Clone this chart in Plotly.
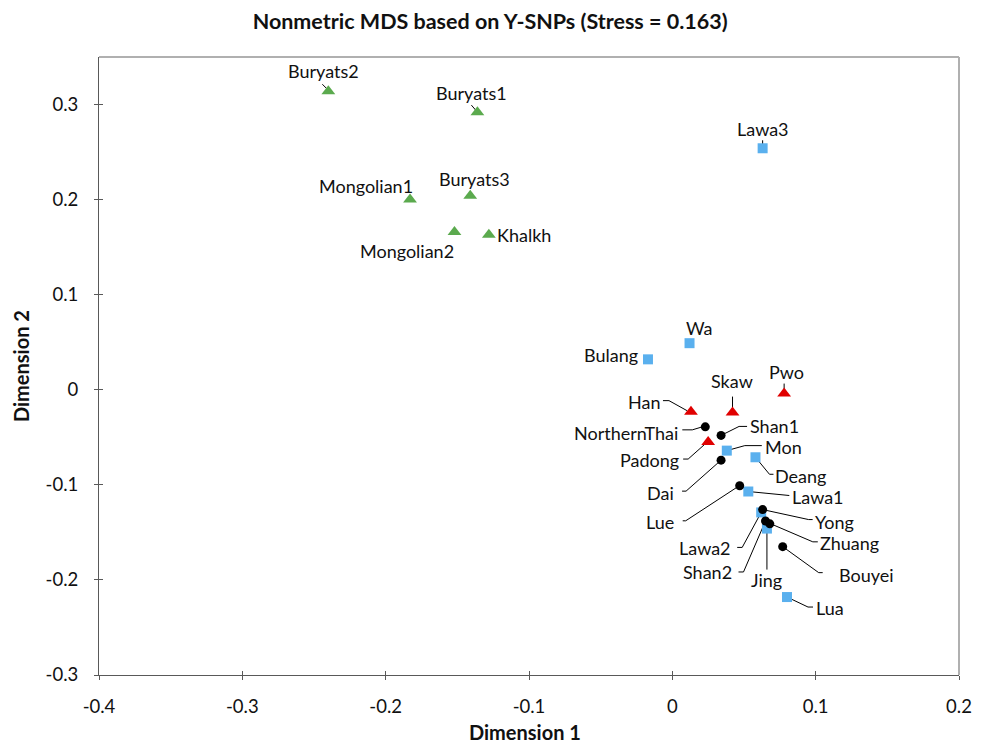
import plotly.graph_objects as go

# ---- data ----
green_names = ["Buryats2", "Buryats1", "Mongolian1", "Buryats3", "Mongolian2", "Khalkh"]
green_x = [-0.240, -0.136, -0.183, -0.141, -0.152, -0.128]
green_y = [0.314, 0.292, 0.200, 0.204, 0.166, 0.163]

red_names = ["Pwo", "Han", "Skaw", "Padong"]
red_x = [0.078, 0.013, 0.042, 0.025]
red_y = [-0.004, -0.023, -0.024, -0.055]

blue_names = ["Lawa3", "Wa", "Bulang", "Mon", "Deang", "Lawa1", "Lawa2", "Jing", "Lua"]
blue_x = [0.063, 0.012, -0.017, 0.038, 0.058, 0.053, 0.062, 0.066, 0.080]
blue_y = [0.254, 0.049, 0.032, -0.064, -0.071, -0.107, -0.129, -0.146, -0.218]

black_names = ["NorthernThai", "Shan1", "Dai", "Lue", "Yong", "Shan2", "Zhuang", "Bouyei"]
black_x = [0.023, 0.034, 0.034, 0.047, 0.063, 0.065, 0.068, 0.077]
black_y = [-0.039, -0.048, -0.074, -0.101, -0.126, -0.138, -0.141, -0.165]

x_ticks = [-0.4, -0.3, -0.2, -0.1, 0, 0.1, 0.2]
x_tick_text = ["-0.4", "-0.3", "-0.2", "-0.1", "0", "0.1", "0.2"]
y_ticks = [-0.3, -0.2, -0.1, 0, 0.1, 0.2, 0.3]
y_tick_text = ["-0.3", "-0.2", "-0.1", "0", "0.1", "0.2", "0.3"]

# ---- label placement (screen-pixel offsets from the marker, y pointing down) ----
label_offset = {
    "Buryats2": (-5, -20), "Buryats1": (-6, -19), "Mongolian1": (-44, -14), "Buryats3": (4, -17),
    "Mongolian2": (-47, 19), "Khalkh": (35, 0), "Lawa3": (0, -19), "Wa": (10, -15),
    "Bulang": (-37, -4), "Pwo": (2, -22), "Han": (-47, -10), "Skaw": (-1, -32),
    "NorthernThai": (-79, 6), "Shan1": (53, -9), "Padong": (-59, 18), "Mon": (57, -4),
    "Deang": (45, 19), "Dai": (-61, 33), "Lue": (-80, 36), "Lawa1": (70, 5),
    "Yong": (72, 12), "Lawa2": (-56, 36), "Zhuang": (80, 19), "Shan2": (-58, 51),
    "Jing": (0, 51), "Bouyei": (84, 28), "Lua": (43, 11),
}
# leader line polylines (screen-pixel offsets from the marker, y pointing down)
leader = {
    "Buryats2": [(-6, -7), (0, -1)], "Buryats1": [(-6, -7), (0, 0)],
    "Lawa3": [(0, -8), (0, -3)], "Pwo": [(0, -10), (0, -4)],
    "Han": [(-28, -11), (-22, -11), (-4, -1)], "Skaw": [(0, -16), (0, -4)],
    "NorthernThai": [(-23, 3), (-13, 3), (-3, 0)], "Shan1": [(0, 0), (18, -9), (26, -9)],
    "Padong": [(-25, 17), (-20, 17), (-2, 1)], "Mon": [(0, 0), (18, -5), (35, -5)],
    "Deang": [(0, 0), (14, 17), (18, 17)], "Dai": [(-39, 31), (-35, 31), (0, 0)],
    "Lue": [(-57, 35), (-54, 35), (-2, 1)], "Lawa1": [(0, 0), (41, 4)],
    "Yong": [(0, 0), (46, 10), (50, 10)], "Lawa2": [(-24, 35), (-19, 35), (0, 0)],
    "Zhuang": [(1, 0), (43, 18), (48, 18)], "Shan2": [(-27, 51), (-22, 51), (0, 0)],
    "Jing": [(0, 0), (0, 41)], "Bouyei": [(0, 0), (36, 26), (40, 26)],
    "Lua": [(0, 0), (21, 10), (26, 10)],
}

FONT = "Lato, 'Open Sans', sans-serif"
TXT = "#111111"

fig = go.Figure()
groups = [
    (green_names, green_x, green_y, dict(symbol="triangle-up", color="#5BAA4E", size=12)),
    (red_names, red_x, red_y, dict(symbol="triangle-up", color="#E00000", size=12)),
    (blue_names, blue_x, blue_y, dict(symbol="square", color="#5AB0EE", size=10)),
    (black_names, black_x, black_y, dict(symbol="circle", color="#000000", size=9)),
]
annotations = []
shapes = []
for names, xs, ys, mk in groups:
    for n, x, y in zip(names, xs, ys):
        if n in leader:
            pts = leader[n]
            path = "M " + " L ".join(f"{px},{-py}" for px, py in pts)
            shapes.append(dict(type="path", xref="x", yref="y", xsizemode="pixel", ysizemode="pixel",
                               xanchor=x, yanchor=y, path=path, line=dict(color="#000000", width=1),
                               layer="below"))
        dx, dy = label_offset[n]
        annotations.append(dict(x=x, y=y, xref="x", yref="y", text=n, showarrow=False,
                                xshift=dx, yshift=-dy, xanchor="center", yanchor="middle",
                                font=dict(family=FONT, size=18, color=TXT)))
    fig.add_trace(go.Scatter(x=xs, y=ys, mode="markers", marker=dict(line=dict(width=0), **mk),
                             showlegend=False, hoverinfo="text", text=names))

# axis titles
annotations.append(dict(xref="paper", yref="paper", x=0.5, y=0, xshift=-4, yshift=-57, showarrow=False,
                        text="<b>Dimension 1</b>", xanchor="center", yanchor="middle",
                        font=dict(family=FONT, size=20, color=TXT)))
annotations.append(dict(xref="paper", yref="paper", x=0, y=0.5, xshift=-78, showarrow=False, textangle=-90,
                        text="<b>Dimension 2</b>", xanchor="center", yanchor="middle",
                        font=dict(family=FONT, size=20, color=TXT)))

# invisible trace on overlay axes to get cross-style tick marks
fig.add_trace(go.Scatter(x=[None], y=[None], xaxis="x2", yaxis="y2", showlegend=False, hoverinfo="skip"))

axis_common = dict(showgrid=False, zeroline=False, showline=True, linecolor="#595959", linewidth=1,
                   tickcolor="#595959", automargin=False)

shapes += [
    dict(type="line", xref="paper", yref="paper", x0=0, x1=1, y0=1, y1=1, line=dict(color="#B0B0B0", width=2)),
    dict(type="line", xref="paper", yref="paper", x0=1, x1=1, y0=0, y1=1, line=dict(color="#B0B0B0", width=2)),
]

fig.update_layout(
    width=978, height=737,
    margin=dict(l=91, r=27, t=49, b=70),
    paper_bgcolor="white", plot_bgcolor="white",
    title=dict(text="<b>Nonmetric MDS based on Y-SNPs (Stress = 0.163)</b>", x=0.493, xanchor="center",
               y=1, yref="container", yanchor="top", pad=dict(t=6),
               font=dict(family=FONT, size=21.5, color=TXT)),
    annotations=annotations,
    shapes=shapes,
    xaxis=dict(range=[-0.4, 0.2], tickvals=x_ticks, ticktext=x_tick_text,
               ticks="outside", ticklen=4, ticklabelstandoff=11,
               tickfont=dict(family=FONT, size=18.5, color=TXT), **axis_common),
    yaxis=dict(range=[-0.3, 0.35], tickvals=y_ticks, ticktext=y_tick_text,
               ticks="outside", ticklen=4, ticklabelstandoff=12,
               tickfont=dict(family=FONT, size=18.5, color=TXT), **axis_common),
    xaxis2=dict(range=[-0.4, 0.2], tickvals=x_ticks, overlaying="x", matches="x", ticks="inside", ticklen=4,
                showticklabels=False, anchor="y2", **axis_common),
    yaxis2=dict(range=[-0.3, 0.35], tickvals=y_ticks, overlaying="y", matches="y", ticks="inside", ticklen=4,
                showticklabels=False, anchor="x2", **axis_common),
)

fig.write_html("out.html")
